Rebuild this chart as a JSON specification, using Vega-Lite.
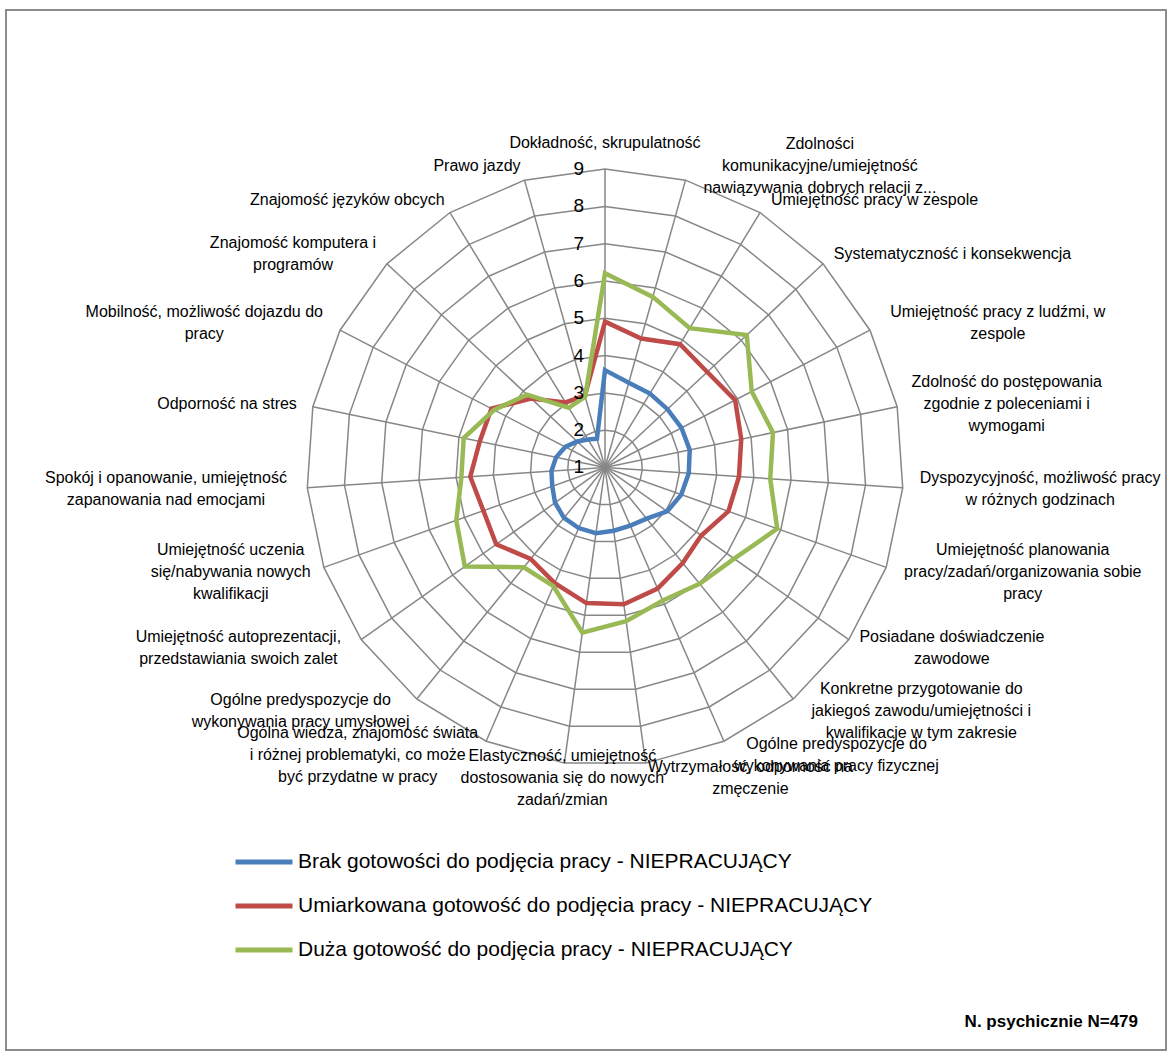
{
  "$schema": "https://vega.github.io/schema/vega-lite/v6.json",
  "width": 1160,
  "height": 1040,
  "autosize": {"type": "none"},
  "padding": {"left": 6, "top": 10, "right": 5, "bottom": 5},
  "background": "white",
  "config": {"view": {"stroke": "#8c8c8c", "strokeWidth": 2}, "font": "Liberation Sans"},
  "title": {"text": "N. psychicznie  N=479", "orient": "bottom", "anchor": "end", "frame": "group", "offset": -28, "dx": -28, "baseline": "middle", "fontSize": 17, "fontWeight": "bold", "font": "Liberation Sans", "color": "#000000"},
  "datasets": {
    "rings": [
      {"level": 2, "idx": [0,1,2,3,4,5,6,7,8,9,10,11,12,13,14,15,16,17,18,19,20,21,22]},
      {"level": 3, "idx": [0,1,2,3,4,5,6,7,8,9,10,11,12,13,14,15,16,17,18,19,20,21,22]},
      {"level": 4, "idx": [0,1,2,3,4,5,6,7,8,9,10,11,12,13,14,15,16,17,18,19,20,21,22]},
      {"level": 5, "idx": [0,1,2,3,4,5,6,7,8,9,10,11,12,13,14,15,16,17,18,19,20,21,22]},
      {"level": 6, "idx": [0,1,2,3,4,5,6,7,8,9,10,11,12,13,14,15,16,17,18,19,20,21,22]},
      {"level": 7, "idx": [0,1,2,3,4,5,6,7,8,9,10,11,12,13,14,15,16,17,18,19,20,21,22]},
      {"level": 8, "idx": [0,1,2,3,4,5,6,7,8,9,10,11,12,13,14,15,16,17,18,19,20,21,22]},
      {"level": 9, "idx": [0,1,2,3,4,5,6,7,8,9,10,11,12,13,14,15,16,17,18,19,20,21,22]}
    ],
    "ticks": [{"level": 1}, {"level": 2}, {"level": 3}, {"level": 4}, {"level": 5}, {"level": 6}, {"level": 7}, {"level": 8}, {"level": 9}],
    "labels": [
      {"i": 0, "label": "Dokładność, skrupulatność"},
      {"i": 1, "label": "Zdolności\nkomunikacyjne/umiejętność\nnawiązywania dobrych relacji z..."},
      {"i": 2, "label": "Umiejętność pracy w zespole"},
      {"i": 3, "label": "Systematyczność i konsekwencja"},
      {"i": 4, "label": "Umiejętność pracy z ludźmi, w\nzespole"},
      {"i": 5, "label": "Zdolność do postępowania\nzgodnie z poleceniami i\nwymogami"},
      {"i": 6, "label": "Dyspozycyjność, możliwość pracy\nw różnych godzinach"},
      {"i": 7, "label": "Umiejętność planowania\npracy/zadań/organizowania sobie\npracy"},
      {"i": 8, "label": "Posiadane doświadczenie\nzawodowe"},
      {"i": 9, "label": "Konkretne przygotowanie do\njakiegoś zawodu/umiejętności i\nkwalifikacje w tym zakresie"},
      {"i": 10, "label": "Ogólne predyspozycje do\nwykonywania pracy fizycznej"},
      {"i": 11, "label": "Wytrzymałość, odporność na\nzmęczenie"},
      {"i": 12, "label": "Elastyczność, umiejętność\ndostosowania się do nowych\nzadań/zmian"},
      {"i": 13, "label": "Ogólna wiedza, znajomość świata\ni różnej problematyki, co może\nbyć przydatne w pracy"},
      {"i": 14, "label": "Ogólne predyspozycje do\nwykonywania pracy umysłowej"},
      {"i": 15, "label": "Umiejętność autoprezentacji,\nprzedstawiania swoich zalet"},
      {"i": 16, "label": "Umiejętność uczenia\nsię/nabywania nowych\nkwalifikacji"},
      {"i": 17, "label": "Spokój i opanowanie, umiejętność\nzapanowania nad emocjami"},
      {"i": 18, "label": "Odporność na stres"},
      {"i": 19, "label": "Mobilność, możliwość dojazdu do\npracy"},
      {"i": 20, "label": "Znajomość komputera i\nprogramów"},
      {"i": 21, "label": "Znajomość języków obcych"},
      {"i": 22, "label": "Prawo jazdy"}
    ],
    "spokes": [
      {"i": 0, "r": [0, 8]}, {"i": 1, "r": [0, 8]}, {"i": 2, "r": [0, 8]}, {"i": 3, "r": [0, 8]},
      {"i": 4, "r": [0, 8]}, {"i": 5, "r": [0, 8]}, {"i": 6, "r": [0, 8]}, {"i": 7, "r": [0, 8]},
      {"i": 8, "r": [0, 8]}, {"i": 9, "r": [0, 8]}, {"i": 10, "r": [0, 8]}, {"i": 11, "r": [0, 8]},
      {"i": 12, "r": [0, 8]}, {"i": 13, "r": [0, 8]}, {"i": 14, "r": [0, 8]}, {"i": 15, "r": [0, 8]},
      {"i": 16, "r": [0, 8]}, {"i": 17, "r": [0, 8]}, {"i": 18, "r": [0, 8]}, {"i": 19, "r": [0, 8]},
      {"i": 20, "r": [0, 8]}, {"i": 21, "r": [0, 8]}, {"i": 22, "r": [0, 8]}
    ],
    "series": [
      {"s": "Brak gotowości do podjęcia pracy - NIEPRACUJĄCY", "i": 0, "v": 3.61},
      {"s": "Brak gotowości do podjęcia pracy - NIEPRACUJĄCY", "i": 1, "v": 3.36},
      {"s": "Brak gotowości do podjęcia pracy - NIEPRACUJĄCY", "i": 2, "v": 3.32},
      {"s": "Brak gotowości do podjęcia pracy - NIEPRACUJĄCY", "i": 3, "v": 3.29},
      {"s": "Brak gotowości do podjęcia pracy - NIEPRACUJĄCY", "i": 4, "v": 3.31},
      {"s": "Brak gotowości do podjęcia pracy - NIEPRACUJĄCY", "i": 5, "v": 3.32},
      {"s": "Brak gotowości do podjęcia pracy - NIEPRACUJĄCY", "i": 6, "v": 3.25},
      {"s": "Brak gotowości do podjęcia pracy - NIEPRACUJĄCY", "i": 7, "v": 3.17},
      {"s": "Brak gotowości do podjęcia pracy - NIEPRACUJĄCY", "i": 8, "v": 3.04},
      {"s": "Brak gotowości do podjęcia pracy - NIEPRACUJĄCY", "i": 9, "v": 2.77},
      {"s": "Brak gotowości do podjęcia pracy - NIEPRACUJĄCY", "i": 10, "v": 2.7},
      {"s": "Brak gotowości do podjęcia pracy - NIEPRACUJĄCY", "i": 11, "v": 2.71},
      {"s": "Brak gotowości do podjęcia pracy - NIEPRACUJĄCY", "i": 12, "v": 2.78},
      {"s": "Brak gotowości do podjęcia pracy - NIEPRACUJĄCY", "i": 13, "v": 2.77},
      {"s": "Brak gotowości do podjęcia pracy - NIEPRACUJĄCY", "i": 14, "v": 2.74},
      {"s": "Brak gotowości do podjęcia pracy - NIEPRACUJĄCY", "i": 15, "v": 2.64},
      {"s": "Brak gotowości do podjęcia pracy - NIEPRACUJĄCY", "i": 16, "v": 2.5},
      {"s": "Brak gotowości do podjęcia pracy - NIEPRACUJĄCY", "i": 17, "v": 2.44},
      {"s": "Brak gotowości do podjęcia pracy - NIEPRACUJĄCY", "i": 18, "v": 2.34},
      {"s": "Brak gotowości do podjęcia pracy - NIEPRACUJĄCY", "i": 19, "v": 2.2},
      {"s": "Brak gotowości do podjęcia pracy - NIEPRACUJĄCY", "i": 20, "v": 2.02},
      {"s": "Brak gotowości do podjęcia pracy - NIEPRACUJĄCY", "i": 21, "v": 1.88},
      {"s": "Brak gotowości do podjęcia pracy - NIEPRACUJĄCY", "i": 22, "v": 1.8},
      {"s": "Umiarkowana gotowość do podjęcia pracy - NIEPRACUJĄCY", "i": 0, "v": 4.91},
      {"s": "Umiarkowana gotowość do podjęcia pracy - NIEPRACUJĄCY", "i": 1, "v": 4.59},
      {"s": "Umiarkowana gotowość do podjęcia pracy - NIEPRACUJĄCY", "i": 2, "v": 4.87},
      {"s": "Umiarkowana gotowość do podjęcia pracy - NIEPRACUJĄCY", "i": 3, "v": 4.75},
      {"s": "Umiarkowana gotowość do podjęcia pracy - NIEPRACUJĄCY", "i": 4, "v": 4.93},
      {"s": "Umiarkowana gotowość do podjęcia pracy - NIEPRACUJĄCY", "i": 5, "v": 4.73},
      {"s": "Umiarkowana gotowość do podjęcia pracy - NIEPRACUJĄCY", "i": 6, "v": 4.6},
      {"s": "Umiarkowana gotowość do podjęcia pracy - NIEPRACUJĄCY", "i": 7, "v": 4.51},
      {"s": "Umiarkowana gotowość do podjęcia pracy - NIEPRACUJĄCY", "i": 8, "v": 4.16},
      {"s": "Umiarkowana gotowość do podjęcia pracy - NIEPRACUJĄCY", "i": 9, "v": 4.3},
      {"s": "Umiarkowana gotowość do podjęcia pracy - NIEPRACUJĄCY", "i": 10, "v": 4.54},
      {"s": "Umiarkowana gotowość do podjęcia pracy - NIEPRACUJĄCY", "i": 11, "v": 4.7},
      {"s": "Umiarkowana gotowość do podjęcia pracy - NIEPRACUJĄCY", "i": 12, "v": 4.67},
      {"s": "Umiarkowana gotowość do podjęcia pracy - NIEPRACUJĄCY", "i": 13, "v": 4.38},
      {"s": "Umiarkowana gotowość do podjęcia pracy - NIEPRACUJĄCY", "i": 14, "v": 4.16},
      {"s": "Umiarkowana gotowość do podjęcia pracy - NIEPRACUJĄCY", "i": 15, "v": 4.57},
      {"s": "Umiarkowana gotowość do podjęcia pracy - NIEPRACUJĄCY", "i": 16, "v": 4.46},
      {"s": "Umiarkowana gotowość do podjęcia pracy - NIEPRACUJĄCY", "i": 17, "v": 4.62},
      {"s": "Umiarkowana gotowość do podjęcia pracy - NIEPRACUJĄCY", "i": 18, "v": 4.43},
      {"s": "Umiarkowana gotowość do podjęcia pracy - NIEPRACUJĄCY", "i": 19, "v": 4.43},
      {"s": "Umiarkowana gotowość do podjęcia pracy - NIEPRACUJĄCY", "i": 20, "v": 3.71},
      {"s": "Umiarkowana gotowość do podjęcia pracy - NIEPRACUJĄCY", "i": 21, "v": 3.04},
      {"s": "Umiarkowana gotowość do podjęcia pracy - NIEPRACUJĄCY", "i": 22, "v": 3.0},
      {"s": "Duża gotowość do podjęcia pracy - NIEPRACUJĄCY", "i": 0, "v": 6.21},
      {"s": "Duża gotowość do podjęcia pracy - NIEPRACUJĄCY", "i": 1, "v": 5.75},
      {"s": "Duża gotowość do podjęcia pracy - NIEPRACUJĄCY", "i": 2, "v": 5.37},
      {"s": "Duża gotowość do podjęcia pracy - NIEPRACUJĄCY", "i": 3, "v": 6.2},
      {"s": "Duża gotowość do podjęcia pracy - NIEPRACUJĄCY", "i": 4, "v": 5.43},
      {"s": "Duża gotowość do podjęcia pracy - NIEPRACUJĄCY", "i": 5, "v": 5.6},
      {"s": "Duża gotowość do podjęcia pracy - NIEPRACUJĄCY", "i": 6, "v": 5.44},
      {"s": "Duża gotowość do podjęcia pracy - NIEPRACUJĄCY", "i": 7, "v": 5.9},
      {"s": "Duża gotowość do podjęcia pracy - NIEPRACUJĄCY", "i": 8, "v": 5.24},
      {"s": "Duża gotowość do podjęcia pracy - NIEPRACUJĄCY", "i": 9, "v": 5.02},
      {"s": "Duża gotowość do podjęcia pracy - NIEPRACUJĄCY", "i": 10, "v": 4.89},
      {"s": "Duża gotowość do podjęcia pracy - NIEPRACUJĄCY", "i": 11, "v": 5.16},
      {"s": "Duża gotowość do podjęcia pracy - NIEPRACUJĄCY", "i": 12, "v": 5.47},
      {"s": "Duża gotowość do podjęcia pracy - NIEPRACUJĄCY", "i": 13, "v": 4.47},
      {"s": "Duża gotowość do podjęcia pracy - NIEPRACUJĄCY", "i": 14, "v": 4.45},
      {"s": "Duża gotowość do podjęcia pracy - NIEPRACUJĄCY", "i": 15, "v": 5.6},
      {"s": "Duża gotowość do podjęcia pracy - NIEPRACUJĄCY", "i": 16, "v": 5.23},
      {"s": "Duża gotowość do podjęcia pracy - NIEPRACUJĄCY", "i": 17, "v": 4.86},
      {"s": "Duża gotowość do podjęcia pracy - NIEPRACUJĄCY", "i": 18, "v": 4.87},
      {"s": "Duża gotowość do podjęcia pracy - NIEPRACUJĄCY", "i": 19, "v": 4.35},
      {"s": "Duża gotowość do podjęcia pracy - NIEPRACUJĄCY", "i": 20, "v": 3.86},
      {"s": "Duża gotowość do podjęcia pracy - NIEPRACUJĄCY", "i": 21, "v": 2.87},
      {"s": "Duża gotowość do podjęcia pracy - NIEPRACUJĄCY", "i": 22, "v": 2.97}
    ]
  },
  "layer": [
    {
      "data": {"name": "rings"},
      "transform": [
        {"flatten": ["idx"]},
        {"calculate": "(datum.level-1)*sin(datum.idx*2*PI/23)", "as": "x"},
        {"calculate": "(datum.level-1)*cos(datum.idx*2*PI/23)", "as": "y"}
      ],
      "mark": {"type": "line", "interpolate": "linear-closed", "stroke": "#878787", "strokeWidth": 1.5},
      "encoding": {
        "x": {"field": "x", "type": "quantitative", "scale": {"domain": [-16.059, 15.04], "nice": false, "zero": false}, "axis": null},
        "y": {"field": "y", "type": "quantitative", "scale": {"domain": [-15.617, 12.265], "nice": false, "zero": false}, "axis": null},
        "detail": {"field": "level", "type": "nominal"},
        "order": {"field": "idx", "type": "quantitative"}
      }
    },
    {
      "data": {"name": "spokes"},
      "transform": [
        {"flatten": ["r"]},
        {"calculate": "datum.r*sin(datum.i*2*PI/23)", "as": "x"},
        {"calculate": "datum.r*cos(datum.i*2*PI/23)", "as": "y"}
      ],
      "mark": {"type": "line", "stroke": "#878787", "strokeWidth": 1.5},
      "encoding": {
        "x": {"field": "x", "type": "quantitative", "scale": {"domain": [-16.059, 15.04], "nice": false, "zero": false}, "axis": null},
        "y": {"field": "y", "type": "quantitative", "scale": {"domain": [-15.617, 12.265], "nice": false, "zero": false}, "axis": null},
        "detail": {"field": "i", "type": "nominal"},
        "order": {"field": "r", "type": "quantitative"}
      }
    },
    {
      "data": {"name": "series"},
      "transform": [
        {"calculate": "(datum.v-1)*sin(datum.i*2*PI/23)", "as": "x"},
        {"calculate": "(datum.v-1)*cos(datum.i*2*PI/23)", "as": "y"}
      ],
      "encoding": {
        "x": {"field": "x", "type": "quantitative", "scale": {"domain": [-16.059, 15.04], "nice": false, "zero": false}, "axis": null},
        "y": {"field": "y", "type": "quantitative", "scale": {"domain": [-15.617, 12.265], "nice": false, "zero": false}, "axis": null},
        "order": {"field": "i", "type": "quantitative"},
        "color": {
          "field": "s", "type": "nominal",
          "scale": {
            "domain": ["Brak gotowości do podjęcia pracy - NIEPRACUJĄCY", "Umiarkowana gotowość do podjęcia pracy - NIEPRACUJĄCY", "Duża gotowość do podjęcia pracy - NIEPRACUJĄCY"],
            "range": ["#4A7EBB", "#BE4B48", "#98B954"]
          },
          "legend": {
            "orient": "none", "legendX": 227, "legendY": 830, "title": null, "direction": "vertical",
            "symbolType": "stroke", "symbolSize": 3249, "symbolStrokeWidth": 5,
            "labelFontSize": 21, "labelFont": "Liberation Sans", "labelColor": "#000000", "labelLimit": 900,
            "clipHeight": 44, "rowPadding": 0, "labelOffset": 3, "padding": 0
          }
        }
      },
      "layer": [
        {"transform": [{"filter": {"field": "s", "equal": "Brak gotowości do podjęcia pracy - NIEPRACUJĄCY"}}], "mark": {"type": "line", "interpolate": "linear-closed", "strokeWidth": 4.5}},
        {"transform": [{"filter": {"field": "s", "equal": "Umiarkowana gotowość do podjęcia pracy - NIEPRACUJĄCY"}}], "mark": {"type": "line", "interpolate": "linear-closed", "strokeWidth": 4.5}},
        {"transform": [{"filter": {"field": "s", "equal": "Duża gotowość do podjęcia pracy - NIEPRACUJĄCY"}}], "mark": {"type": "line", "interpolate": "linear-closed", "strokeWidth": 4.5}}
      ]
    },
    {
      "data": {"name": "ticks"},
      "transform": [
        {"calculate": "datum.level-1", "as": "y"},
        {"calculate": "0", "as": "x"}
      ],
      "mark": {"type": "text", "align": "right", "baseline": "middle", "dx": -21, "fontSize": 19, "font": "Liberation Sans", "color": "#000000"},
      "encoding": {
        "x": {"field": "x", "type": "quantitative", "scale": {"domain": [-16.059, 15.04], "nice": false, "zero": false}, "axis": null},
        "y": {"field": "y", "type": "quantitative", "scale": {"domain": [-15.617, 12.265], "nice": false, "zero": false}, "axis": null},
        "text": {"field": "level", "type": "nominal"}
      }
    },
    {
      "data": {"name": "labels"},
      "transform": [
        {"calculate": "sin(datum.i*2*PI/23)", "as": "s"},
        {"calculate": "cos(datum.i*2*PI/23)", "as": "c"},
        {"calculate": "split(datum.label, '\\n')", "as": "ln"},
        {"calculate": "max(length(datum.ln[0]), length(datum.ln[1] || ''), length(datum.ln[2] || ''))", "as": "ml"},
        {"calculate": "datum.s > 0.05 ? 1 : (datum.s < -0.2 ? -1 : 0)", "as": "side"},
        {"calculate": "8*datum.s + (15*datum.s + datum.side*datum.ml*7.9/2)/37.3", "as": "x"},
        {"calculate": "8*datum.c + (15*datum.c + (datum.c > 0.99 ? length(datum.ln)*11 : 0) + (length(datum.ln)-1)*11)/37.3", "as": "y"}
      ],
      "mark": {"type": "text", "align": "center", "baseline": "middle", "lineBreak": "\n", "lineHeight": 22, "fontSize": 16, "font": "Liberation Sans", "color": "#000000"},
      "encoding": {
        "x": {"field": "x", "type": "quantitative", "scale": {"domain": [-16.059, 15.04], "nice": false, "zero": false}, "axis": null},
        "y": {"field": "y", "type": "quantitative", "scale": {"domain": [-15.617, 12.265], "nice": false, "zero": false}, "axis": null},
        "text": {"field": "label", "type": "nominal"}
      }
    }
  ]
}
